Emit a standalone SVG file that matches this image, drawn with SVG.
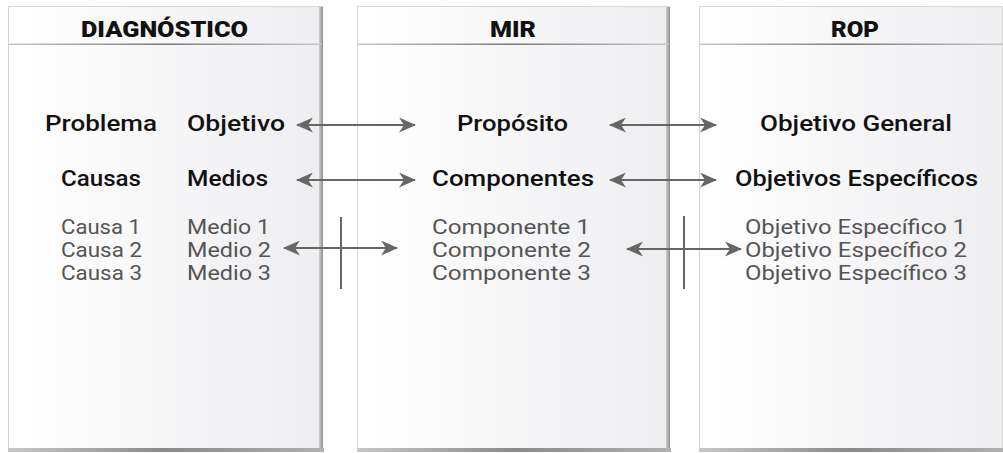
<svg xmlns="http://www.w3.org/2000/svg" width="1003" height="453" viewBox="0 0 1003 453">
<defs>
<linearGradient id="pfill" x1="0" y1="0" x2="1" y2="0">
<stop offset="0" stop-color="#ffffff"/>
<stop offset="0.3" stop-color="#fafafb"/>
<stop offset="1" stop-color="#eeeef1"/>
</linearGradient>
<linearGradient id="hline" x1="0" y1="0" x2="1" y2="0">
<stop offset="0" stop-color="#c8c8c8"/>
<stop offset="0.5" stop-color="#7a7a7a"/>
<stop offset="1" stop-color="#c8c8c8"/>
</linearGradient>
<linearGradient id="bshadow" x1="0" y1="0" x2="1" y2="0">
<stop offset="0" stop-color="#c8c8c8"/>
<stop offset="0.5" stop-color="#8a8a8a"/>
<stop offset="1" stop-color="#b0b0b0"/>
</linearGradient>
<linearGradient id="rshadow" x1="0" y1="0" x2="1" y2="0">
<stop offset="0" stop-color="#d0d0d2"/>
<stop offset="1" stop-color="#8e8e8e"/>
</linearGradient>
<marker id="ah" viewBox="0 0 17 15" refX="16" refY="7.5" markerWidth="17" markerHeight="15" markerUnits="userSpaceOnUse" orient="auto-start-reverse">
<path d="M0,0 L17,7.5 L0,15 L5,7.5 Z" fill="#666"/>
</marker>
</defs>
<style>
.panel{fill:url(#pfill);stroke:#d6d6d6;stroke-width:1}
.rs{fill:url(#rshadow)}
.bs{fill:url(#bshadow)}
.hl{fill:url(#hline)}
.hd{font-family:Roboto,"Liberation Sans",sans-serif;font-weight:900;font-size:22px;fill:#111}
.t{font-family:Roboto,"Liberation Sans",sans-serif;font-weight:500;font-size:22.5px;fill:#111}
.g{font-family:Roboto,"Liberation Sans",sans-serif;font-weight:400;font-size:19.5px;fill:#555}
.ar{stroke:#666;stroke-width:2;fill:none;marker-start:url(#ah);marker-end:url(#ah)}
.vl{stroke:#666;stroke-width:2}
</style>
<rect width="1003" height="453" fill="#ffffff"/>
<g id="panel-diagnostico">
<rect class="panel" x="8.5" y="6.5" width="314" height="442"/>
<rect class="rs" x="319" y="7" width="4" height="442"/>
<rect class="bs" x="8" y="448" width="316" height="4"/>
<rect class="hl" x="8" y="43.5" width="314" height="1.5"/>
<text class="hd" x="81" y="36.5" textLength="167" lengthAdjust="spacingAndGlyphs">DIAGNÓSTICO</text>
<text class="t" x="45" y="131" textLength="112" lengthAdjust="spacingAndGlyphs">Problema</text>
<text class="t" x="187" y="131" textLength="98" lengthAdjust="spacingAndGlyphs">Objetivo</text>
<text class="t" x="61" y="186" textLength="80" lengthAdjust="spacingAndGlyphs">Causas</text>
<text class="t" x="187" y="186" textLength="81" lengthAdjust="spacingAndGlyphs">Medios</text>
<text class="g" x="61" y="234" textLength="80" lengthAdjust="spacingAndGlyphs">Causa 1</text>
<text class="g" x="61" y="257" textLength="81" lengthAdjust="spacingAndGlyphs">Causa 2</text>
<text class="g" x="61" y="280" textLength="81" lengthAdjust="spacingAndGlyphs">Causa 3</text>
<text class="g" x="187" y="234" textLength="83" lengthAdjust="spacingAndGlyphs">Medio 1</text>
<text class="g" x="187" y="257" textLength="84" lengthAdjust="spacingAndGlyphs">Medio 2</text>
<text class="g" x="187" y="280" textLength="84" lengthAdjust="spacingAndGlyphs">Medio 3</text>
</g>
<g id="panel-mir">
<rect class="panel" x="357.5" y="6.5" width="312" height="442"/>
<rect class="rs" x="666" y="7" width="4" height="442"/>
<rect class="bs" x="357" y="448" width="314" height="4"/>
<rect class="hl" x="357" y="43.5" width="312" height="1.5"/>
<text class="hd" x="490" y="36.5" textLength="46" lengthAdjust="spacingAndGlyphs">MIR</text>
<text class="t" x="457" y="131" textLength="111" lengthAdjust="spacingAndGlyphs">Propósito</text>
<text class="t" x="432" y="186" textLength="162" lengthAdjust="spacingAndGlyphs">Componentes</text>
<text class="g" x="432" y="234" textLength="158" lengthAdjust="spacingAndGlyphs">Componente 1</text>
<text class="g" x="432" y="257" textLength="159" lengthAdjust="spacingAndGlyphs">Componente 2</text>
<text class="g" x="432" y="280" textLength="159" lengthAdjust="spacingAndGlyphs">Componente 3</text>
</g>
<g id="panel-rop">
<rect class="panel" x="699.5" y="6.5" width="303" height="442"/>
<rect class="bs" x="699" y="448" width="304" height="4"/>
<rect class="hl" x="699" y="43.5" width="304" height="1.5"/>
<text class="hd" x="831" y="36.5" textLength="48" lengthAdjust="spacingAndGlyphs">ROP</text>
<text class="t" x="760" y="131" textLength="192" lengthAdjust="spacingAndGlyphs">Objetivo General</text>
<text class="t" x="735" y="186" textLength="243" lengthAdjust="spacingAndGlyphs">Objetivos Específicos</text>
<text class="g" x="745" y="234" textLength="221" lengthAdjust="spacingAndGlyphs">Objetivo Específico 1</text>
<text class="g" x="745" y="257" textLength="222" lengthAdjust="spacingAndGlyphs">Objetivo Específico 2</text>
<text class="g" x="745" y="280" textLength="222" lengthAdjust="spacingAndGlyphs">Objetivo Específico 3</text>
</g>
<g id="connectors">
<line class="ar" x1="297" y1="125" x2="415" y2="125"/>
<line class="ar" x1="297" y1="180" x2="415" y2="180"/>
<line class="ar" x1="284" y1="248" x2="397" y2="248"/>
<line class="vl" x1="341" y1="217" x2="341" y2="289"/>
<line class="ar" x1="610" y1="125" x2="716" y2="125"/>
<line class="ar" x1="610" y1="180" x2="716" y2="180"/>
<line class="ar" x1="627" y1="249" x2="741" y2="249"/>
<line class="vl" x1="684" y1="216" x2="684" y2="289"/>
</g>
</svg>
